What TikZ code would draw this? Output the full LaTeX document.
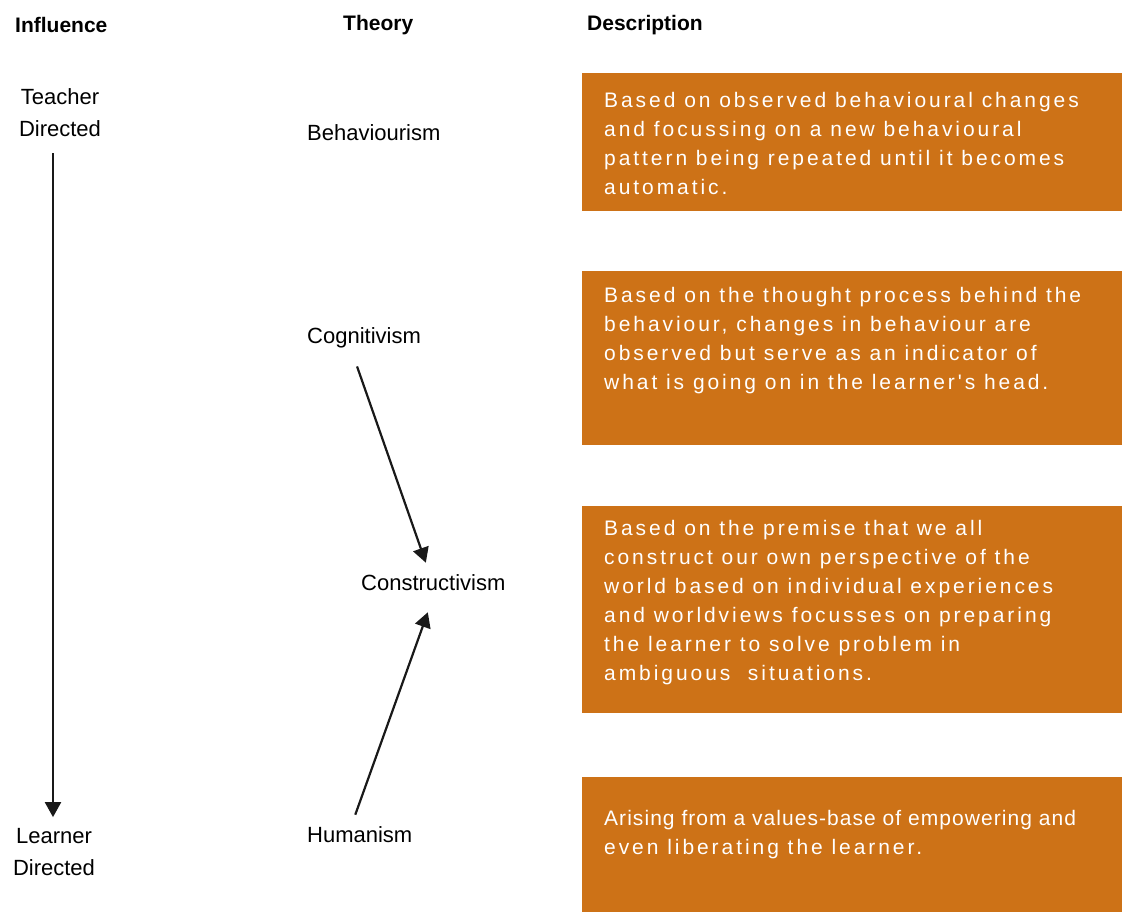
\documentclass[tikz,border=0pt]{standalone}
\usepackage{fontspec}
\setmainfont{Liberation Sans}
\newfontfamily\descfont[LetterSpace=14]{Liberation Sans}
\newfontfamily\descfontb[LetterSpace=5]{Liberation Sans}
\usetikzlibrary{arrows.meta, positioning}
\definecolor{descorange}{RGB}{205,114,23}
\tikzset{
    head/.style={font=\bfseries\fontsize{21}{25}\selectfont, anchor=west, inner sep=0},
    l/.style={font=\fontsize{22}{32}\selectfont, align=center, inner sep=0},
    th/.style={font=\fontsize{22}{26}\selectfont, anchor=west, inner sep=0},
    box/.style={fill=descorange, minimum width=540pt, anchor=north west, inner sep=0},
    txt/.style={text=white, font=\descfont\fontsize{21}{29}\selectfont, align=left, anchor=north west, inner sep=0},
    e/.style={line width=2.2pt, -{Triangle[length=15pt, width=16pt]}, color=black!90}
}

\begin{document}
\begin{tikzpicture}[x=1pt, y=-1pt]
    \useasboundingbox (0,0) rectangle (1122,912);

    % headings
    \node[head] (influence) at (15,25) {Influence};
    \node[head] (theory) at (343,25) {Theory};
    \node[head] (description) at (587,25) {Description};

    % influence scale
    \node[l] (teacher) at (60,113) {Teacher\\Directed};
    \node[l] (learner) at (54,852) {Learner\\Directed};
    \draw[e] ([xshift=-7pt, yshift=-16pt]teacher.south) -- ([xshift=-1pt, yshift=11pt]learner.north);

    % theories
    \node[th] (behav) at (307,133) {Behaviourism};
    \node[th] (cogn) at (307,338) {Cognitivism};
    \node[th] (constr) at (361,583) {Constructivism};
    \node[th] (human) at (307,835) {Humanism};
    \draw[e] ([xshift=-7pt, yshift=-18pt]cogn.south) -- ([xshift=-7.5pt, yshift=12pt]constr.north);
    \draw[e] ([xshift=-4.5pt, yshift=12pt]human.north) -- ([xshift=-5.5pt, yshift=-21pt]constr.south);

    % descriptions
    \node[box, minimum height=138pt] (behavbox) at (582,73) {};
    \node[box, minimum height=174pt] (cognbox) at (582,271) {};
    \node[box, minimum height=207pt] (constrbox) at (582,506) {};
    \node[box, minimum height=135pt] (humanbox) at (582,777) {};

    \node[txt] (behavtxt) at (604,92) {Based on observed behavioural changes\\and focussing on a new behavioural\\pattern being repeated until it becomes\\automatic.};
    \node[txt] (cogntxt) at (604,287) {Based on the thought process behind the\\behaviour, changes in behaviour are\\observed but serve as an indicator of\\what is going on in the learner's head.};
    \node[txt] (constrtxt) at (604,520) {Based on the premise that we all\\construct our own perspective of the\\world based on individual experiences\\and worldviews focusses on preparing\\the learner to solve problem in\\ambiguous\ \ situations.};
    \node[txt] (humantxt) at (604,810) {{\descfontb Arising from a values-base of empowering and}\\even liberating the learner.};
\end{tikzpicture}
\end{document}
